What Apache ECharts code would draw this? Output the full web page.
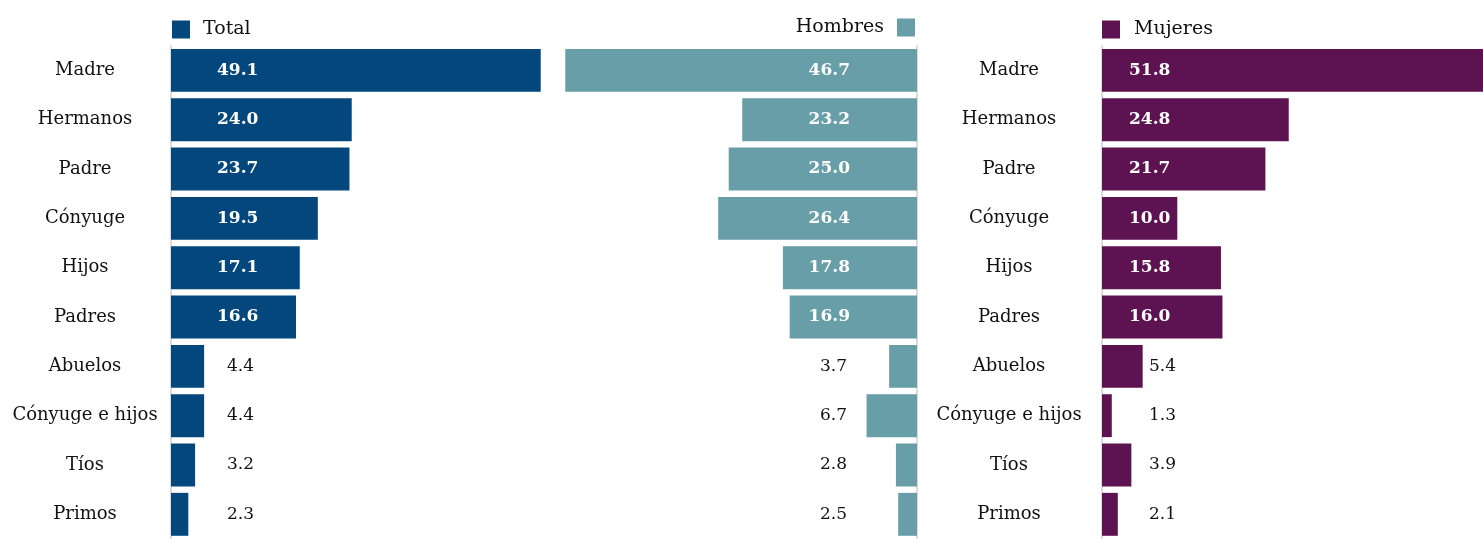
<!DOCTYPE html>
<html><head><meta charset="utf-8">
<script src="https://cdn.jsdelivr.net/npm/echarts@6/dist/echarts.min.js"></script>
<style>html,body{margin:0;padding:0;background:#fff}#c{width:1483px;height:539px}</style>
</head><body><div id="c"></div>
<script>
var categories = ['Madre','Hermanos','Padre','Cónyuge','Hijos','Padres','Abuelos','Cónyuge e hijos','Tíos','Primos'];
var totalValues = [49.1,24.0,23.7,19.5,17.1,16.6,4.4,4.4,3.2,2.3];
var hombresValues = [46.7,23.2,25.0,26.4,17.8,16.9,3.7,6.7,2.8,2.5];
var mujeresValues = [51.8,24.8,21.7,10.0,15.8,16.0,5.4,1.3,3.9,2.1];
var seriesNames = ['Total','Hombres','Mujeres'];
var colors = ['#03477c','#689ea8','#5d1351'];

var FONT = 'DejaVu Serif';
var chart = echarts.init(document.getElementById('c'));
var TOP = 45.7, H = 496;

function items(vals, inside, outside) {
  return vals.map(function (v) {
    return { value: v, label: v >= 10 ? inside : outside };
  });
}
var baseInside = { show: true, color: '#fff', fontWeight: 'bold', fontFamily: FONT, fontSize: 17, verticalAlign: 'middle',
  formatter: function (p) { return p.value.toFixed(1); } };
var baseOutside = { show: true, color: '#111', fontWeight: 'normal', fontFamily: FONT, fontSize: 17, verticalAlign: 'middle',
  formatter: function (p) { return p.value.toFixed(1); } };
function lab(base, extra) { return Object.assign({}, base, extra); }

var catAxisCommon = {
  type: 'category', data: categories, inverse: true,
  axisTick: { show: false },
  axisLine: { show: true, lineStyle: { color: '#dcdcdc', width: 2 } }
};

var option = {
  animation: false,
  legend: [
    { data: [seriesNames[0]], left: 172, top: 20, itemWidth: 18, itemHeight: 18, icon: 'rect', padding: 0,
      textStyle: { fontFamily: FONT, fontSize: 19, color: '#111', padding: [0,0,0,8] } },
    { data: [seriesNames[1]], right: 568, top: 18, itemWidth: 18, itemHeight: 18, icon: 'rect', padding: 0, align: 'right',
      textStyle: { fontFamily: FONT, fontSize: 19, color: '#111', padding: [0,8,0,0] } },
    { data: [seriesNames[2]], left: 1102, top: 20, itemWidth: 18, itemHeight: 18, icon: 'rect', padding: 0,
      textStyle: { fontFamily: FONT, fontSize: 19, color: '#111', padding: [0,0,0,9] } }
  ],
  grid: [
    { left: 171, top: TOP, width: 376.5, height: H },
    { left: 917 - 354, top: TOP, width: 354, height: H },
    { left: 1102, top: TOP, width: 381, height: H }
  ],
  xAxis: [
    { gridIndex: 0, type: 'value', min: 0, max: 50, show: false },
    { gridIndex: 1, type: 'value', min: 0, max: 47, inverse: true, show: false },
    { gridIndex: 2, type: 'value', min: 0, max: 50.6, show: false }
  ],
  yAxis: [
    Object.assign({ gridIndex: 0, position: 'left',
      axisLabel: { align: 'center', margin: 86, fontFamily: FONT, fontSize: 18, color: '#111' } }, catAxisCommon),
    Object.assign({ gridIndex: 1, position: 'right', axisLabel: { show: false } }, catAxisCommon),
    Object.assign({ gridIndex: 2, position: 'left',
      axisLabel: { align: 'center', margin: 93, fontFamily: FONT, fontSize: 18, color: '#111' } }, catAxisCommon)
  ],
  series: [
    { name: seriesNames[0], type: 'bar', xAxisIndex: 0, yAxisIndex: 0, barCategoryGap: '13%', itemStyle: { color: colors[0] },
      data: items(totalValues, lab(baseInside, { position: 'insideLeft', distance: 46 }),
                               lab(baseOutside, { position: [83, '50%'], align: 'right' })) },
    { name: seriesNames[1], type: 'bar', xAxisIndex: 1, yAxisIndex: 1, barCategoryGap: '13%', itemStyle: { color: colors[1] },
      data: items(hombresValues, lab(baseInside, { position: 'insideRight', distance: 67 }),
                                 lab(baseOutside, { position: 'insideRight', distance: 70 })) },
    { name: seriesNames[2], type: 'bar', xAxisIndex: 2, yAxisIndex: 2, barCategoryGap: '13%', itemStyle: { color: colors[2] },
      data: items(mujeresValues, lab(baseInside, { position: 'insideLeft', distance: 27 }),
                                 lab(baseOutside, { position: [74, '50%'], align: 'right' })) }
  ]
};
chart.setOption(option);
</script></body></html>
